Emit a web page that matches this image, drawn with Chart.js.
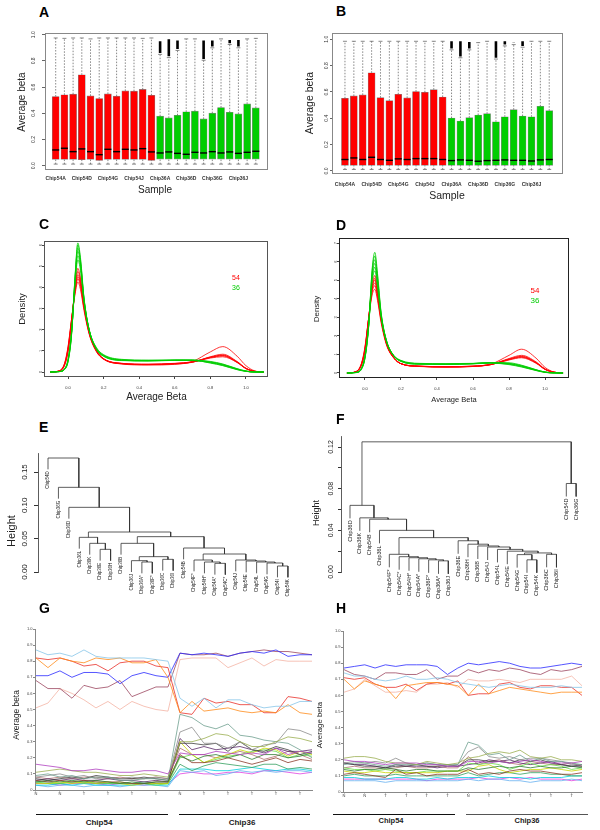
<!DOCTYPE html>
<html>
<head>
<meta charset="utf-8">
<script src="https://cdn.jsdelivr.net/npm/chart.js@4.4.1/dist/chart.umd.min.js"></script>
<style>
body { margin: 0; background: #fff; }
#fig { position: relative; width: 600px; height: 830px; overflow: hidden; font-family: "Liberation Sans", Arial, sans-serif; color: #222; }
#fig canvas { position: absolute; }
.t { position: absolute; white-space: nowrap; line-height: 1; transform: translate(-50%, -50%); }
.p { position: absolute; font-weight: bold; font-size: 14px; line-height: 1; color: #000; }
.bar { position: absolute; height: 0; border-top: 1.5px solid #111; }
</style>
</head>
<body>
<div id="fig"></div>
<script>
// ---------- dados ----------
const SAMPLES = ['Chip54A','Chip54B','Chip54C','Chip54D','Chip54E','Chip54F','Chip54G','Chip54H','Chip54I','Chip54J','Chip54K','Chip54L',
                 'Chip36A','Chip36B','Chip36C','Chip36D','Chip36E','Chip36F','Chip36G','Chip36H','Chip36I','Chip36J','Chip36K','Chip36L'];
const BOX_TICKS = [1, 4, 7, 10, 13, 16, 19, 22];
const BETA_TICKS = [0, 0.2, 0.4, 0.6, 0.8, 1.0];

// painel A
const A_Q3  = [0.528,0.541,0.546,0.694,0.533,0.513,0.548,0.531,0.571,0.569,0.582,0.538, 0.378,0.365,0.385,0.411,0.416,0.357,0.401,0.444,0.408,0.395,0.472,0.441];
const A_MED = [0.120,0.133,0.107,0.128,0.107,0.084,0.125,0.107,0.125,0.120,0.130,0.105, 0.097,0.105,0.094,0.087,0.102,0.097,0.107,0.097,0.105,0.094,0.102,0.110];
const A_Q1  = [0.048,0.048,0.048,0.046,0.048,0.040,0.048,0.048,0.048,0.048,0.048,0.040, 0.050,0.050,0.050,0.050,0.050,0.050,0.050,0.050,0.050,0.050,0.050,0.050];
const A_MIN = [0.012,0.012,0.012,0.012,0.012,0.012,0.012,0.012,0.012,0.012,0.012,0.012, 0.012,0.012,0.012,0.012,0.012,0.012,0.012,0.012,0.012,0.012,0.012,0.012];
const A_MAX = [0.975,0.972,0.975,0.975,0.968,0.975,0.975,0.975,0.975,0.975,0.972,0.975, 0.850,0.825,0.880,0.968,0.968,0.805,0.900,0.968,0.925,0.900,0.968,0.972];
const A_OUT = [[13,0.86,0.95],[14,0.835,0.965],[15,0.89,0.955],[18,0.815,0.955],[19,0.91,0.955],[21,0.935,0.96],[22,0.91,0.96]];

// painel B
const B_Q3  = [0.552,0.570,0.578,0.746,0.557,0.534,0.583,0.555,0.603,0.598,0.618,0.562, 0.402,0.379,0.405,0.425,0.435,0.374,0.412,0.466,0.417,0.412,0.491,0.458];
const B_MED = [0.087,0.099,0.087,0.104,0.087,0.081,0.092,0.087,0.094,0.094,0.094,0.087, 0.079,0.084,0.081,0.074,0.079,0.081,0.084,0.081,0.081,0.076,0.084,0.087];
const B_Q1  = [0.043,0.043,0.043,0.043,0.043,0.043,0.043,0.043,0.043,0.043,0.043,0.043, 0.043,0.043,0.043,0.043,0.043,0.043,0.043,0.043,0.043,0.043,0.043,0.043];
const B_MIN = [0.012,0.012,0.012,0.012,0.012,0.012,0.012,0.012,0.012,0.012,0.012,0.012, 0.012,0.012,0.012,0.012,0.012,0.012,0.012,0.012,0.012,0.012,0.012,0.012];
const B_MAX = [0.985,0.985,0.985,0.985,0.985,0.985,0.985,0.985,0.985,0.985,0.985,0.985, 0.920,0.860,0.920,0.975,0.985,0.850,0.950,0.960,0.940,0.985,0.985,0.985];
const B_OUT = [[13,0.93,0.985],[14,0.87,0.985],[15,0.93,0.98],[18,0.86,0.985],[19,0.96,0.985],[20,0.975,0.978],[21,0.95,0.985]];

// paineis C e D: densidades lidas numa grelha de beta
const DENS_X = [-0.1,-0.05,-0.02,0,0.02,0.04,0.055,0.07,0.09,0.12,0.16,0.2,0.3,0.45,0.6,0.7,0.8,0.87,0.95,1.0,1.05,1.1];
const C_RED_1 = [0,0.06,0.40,1.20,2.50,3.70,4.25,3.90,2.90,1.75,0.95,0.60,0.38,0.33,0.36,0.50,0.95,1.20,0.75,0.30,0.05,0];
const C_RED_2 = [0,0.05,0.38,1.15,2.50,3.80,4.40,4.05,3.00,1.80,0.98,0.62,0.40,0.36,0.40,0.48,0.66,0.72,0.45,0.16,0.03,0];
const C_RED_3 = [0,0.05,0.36,1.10,2.45,3.85,4.50,4.15,3.05,1.80,0.98,0.62,0.41,0.37,0.41,0.48,0.68,0.76,0.46,0.16,0.03,0];
const C_RED_4 = [0,0.04,0.34,1.05,2.40,3.90,4.60,4.25,3.10,1.85,1.00,0.63,0.41,0.36,0.40,0.47,0.70,0.80,0.48,0.17,0.03,0];
const C_RED_5 = [0,0.04,0.32,1.00,2.40,4.00,4.75,4.35,3.15,1.85,1.00,0.62,0.40,0.35,0.38,0.46,0.72,0.84,0.50,0.18,0.03,0];
const C_RED_6 = [0,0.04,0.30,0.95,2.35,4.05,4.90,4.45,3.20,1.90,1.02,0.62,0.39,0.35,0.39,0.47,0.70,0.78,0.47,0.17,0.03,0];
const C_GRN_1 = [0,0.02,0.15,0.60,1.90,4.20,5.30,4.80,3.30,1.95,1.15,0.82,0.60,0.56,0.56,0.54,0.45,0.33,0.13,0.04,0,0];
const C_GRN_2 = [0,0.02,0.14,0.58,1.90,4.30,5.50,4.95,3.35,1.95,1.12,0.80,0.58,0.55,0.56,0.55,0.47,0.35,0.14,0.04,0,0];
const C_GRN_3 = [0,0.02,0.13,0.55,1.85,4.40,5.70,5.10,3.40,1.95,1.10,0.78,0.57,0.54,0.56,0.56,0.48,0.36,0.15,0.04,0,0];
const C_GRN_4 = [0,0.02,0.12,0.52,1.80,4.50,5.85,5.20,3.45,1.95,1.08,0.76,0.56,0.53,0.55,0.55,0.44,0.31,0.12,0.03,0,0];
const C_GRN_5 = [0,0.02,0.12,0.50,1.80,4.55,6.00,5.30,3.45,1.95,1.07,0.75,0.55,0.53,0.56,0.57,0.50,0.38,0.16,0.05,0,0];
const C_GRN_6 = [0,0.02,0.11,0.48,1.75,4.60,6.10,5.40,3.50,1.95,1.06,0.74,0.54,0.52,0.55,0.56,0.42,0.30,0.11,0.03,0,0];
const D_RED_1 = [0,0.08,0.50,1.40,2.90,4.20,4.50,3.90,2.70,1.50,0.80,0.50,0.36,0.32,0.35,0.48,0.95,1.28,0.80,0.30,0.05,0];
const D_RED_2 = [0,0.07,0.48,1.35,2.90,4.35,4.70,4.05,2.80,1.55,0.82,0.50,0.37,0.34,0.37,0.46,0.72,0.85,0.55,0.20,0.04,0];
const D_RED_3 = [0,0.07,0.46,1.30,2.90,4.45,4.85,4.15,2.85,1.55,0.82,0.50,0.37,0.34,0.37,0.46,0.75,0.90,0.57,0.20,0.04,0];
const D_RED_4 = [0,0.06,0.44,1.25,2.90,4.55,5.00,4.25,2.90,1.58,0.83,0.50,0.36,0.33,0.36,0.45,0.70,0.82,0.52,0.19,0.04,0];
const D_RED_5 = [0,0.06,0.42,1.20,2.85,4.60,5.10,4.35,2.95,1.60,0.83,0.50,0.36,0.33,0.36,0.46,0.78,0.95,0.60,0.22,0.04,0];
const D_RED_6 = [0,0.06,0.40,1.15,2.85,4.70,5.25,4.45,3.00,1.62,0.84,0.50,0.35,0.32,0.35,0.45,0.74,0.88,0.55,0.20,0.04,0];
const D_GRN_1 = [0,0.03,0.25,0.90,2.50,4.90,5.50,4.60,3.00,1.70,0.95,0.68,0.52,0.50,0.52,0.56,0.52,0.40,0.17,0.05,0.01,0];
const D_GRN_2 = [0,0.03,0.24,0.88,2.50,5.05,5.70,4.75,3.05,1.70,0.94,0.66,0.50,0.48,0.51,0.55,0.50,0.38,0.16,0.05,0.01,0];
const D_GRN_3 = [0,0.03,0.22,0.85,2.50,5.20,5.90,4.90,3.10,1.70,0.93,0.65,0.50,0.48,0.51,0.56,0.55,0.42,0.18,0.05,0.01,0];
const D_GRN_4 = [0,0.03,0.21,0.82,2.45,5.35,6.10,5.05,3.15,1.70,0.92,0.64,0.49,0.47,0.50,0.54,0.47,0.34,0.14,0.04,0,0];
const D_GRN_5 = [0,0.02,0.20,0.80,2.45,5.50,6.30,5.20,3.20,1.72,0.92,0.63,0.48,0.47,0.50,0.55,0.50,0.36,0.15,0.04,0,0];
const D_GRN_6 = [0,0.02,0.19,0.78,2.40,5.60,6.50,5.35,3.25,1.75,0.92,0.62,0.47,0.46,0.49,0.53,0.45,0.32,0.13,0.03,0,0];

// paineis E e F: dendrogramas (folhas por ordem, fusoes [a, b, altura])
const E_ORDER = ['Chip54D','Chip36G','Chip36D','Chip36L','Chip36K','Chip36E','Chip36H','Chip36B','Chip36J','Chip36A*','Chip36F*','Chip36C',
                 'Chip36I','Chip54B','Chip54F*','Chip54H*','Chip54A*','Chip54C*','Chip54J','Chip54E','Chip54L','Chip54G','Chip54I','Chip54K'];
const E_MERGES = [
  ['Chip36E','Chip36H',0.034], ['Chip36K',0,0.043], ['Chip36L',1,0.052],
  ['Chip36A*','Chip36F*',0.015], ['Chip36J',3,0.017], ['Chip36C','Chip36I',0.019], [4,5,0.023], ['Chip36B',6,0.043],
  ['Chip54A*','Chip54C*',0.013], ['Chip54H*',8,0.015], ['Chip54F*',9,0.018],
  ['Chip54I','Chip54K',0.009], ['Chip54G',11,0.0135], ['Chip54L',12,0.015], ['Chip54E',13,0.0165], ['Chip54J',14,0.018],
  [10,15,0.027], ['Chip54B',16,0.036], [7,17,0.053], [2,18,0.060],
  ['Chip36D',19,0.097], ['Chip36G',20,0.127], ['Chip54D',21,0.171]
];
const E_TICKS = [0, 0.05, 0.10, 0.15];
const F_ORDER = ['Chip36D','Chip36K','Chip54B','Chip36L','Chip54F*','Chip54C*','Chip54H*','Chip54A*','Chip36F*','Chip36A*','Chip36J','Chip36E',
                 'Chip36H','Chip36B','Chip54J','Chip54L','Chip54E','Chip54G','Chip54I','Chip54K','Chip36C','Chip36I','Chip54D','Chip36G'];
const F_MERGES = [
  ['Chip36A*','Chip36J',0.0107], ['Chip36F*',0,0.0117], ['Chip54A*',1,0.0127], ['Chip54H*',2,0.0137], ['Chip54C*',3,0.0147], ['Chip54F*',4,0.017],
  ['Chip54I','Chip54K',0.0117], ['Chip54G',6,0.0167], ['Chip36C','Chip36I',0.017], [7,8,0.0183],
  ['Chip54E',9,0.020], ['Chip54L',10,0.0217], ['Chip54J',11,0.024], ['Chip36B',12,0.025], ['Chip36H',13,0.0267], ['Chip36E',14,0.030],
  [5,15,0.033], ['Chip36L',16,0.040], ['Chip54B',17,0.0507], ['Chip36K',18,0.052], ['Chip36D',19,0.064],
  ['Chip54D','Chip36G',0.085], [20,21,0.125]
];
const F_TICKS = [0, 0.02, 0.04, 0.06, 0.08, 0.10, 0.12];

// paineis G e H: 12 amostras Chip54 seguidas de 12 Chip36
const TN = ['N','N','T','T','T','T','N','T','T','T','T','T'];
const LINE_TICKS = [0, 2, 4, 6, 8, 10, 12, 14, 16, 18, 20, 22];
const Y10_TICKS = [0, 0.1, 0.2, 0.3, 0.4, 0.5, 0.6, 0.7, 0.8, 0.9, 1.0];

const G_SKY     = [0.87,0.84,0.85,0.83,0.87,0.83,0.82,0.82,0.82,0.82,0.81,0.80, 0.57,0.52,0.57,0.51,0.56,0.56,0.53,0.51,0.52,0.52,0.55,0.55];
const G_ORANGE  = [0.82,0.76,0.82,0.80,0.79,0.82,0.81,0.82,0.79,0.79,0.81,0.70, 0.48,0.55,0.49,0.50,0.51,0.49,0.48,0.49,0.48,0.53,0.48,0.47];
const G_RED     = [0.82,0.81,0.82,0.80,0.77,0.78,0.74,0.79,0.80,0.80,0.77,0.76, 0.48,0.47,0.57,0.54,0.55,0.53,0.53,0.48,0.48,0.58,0.57,0.55];
const G_BLUE    = [0.71,0.71,0.74,0.70,0.73,0.73,0.72,0.66,0.71,0.73,0.71,0.70, 0.85,0.84,0.85,0.84,0.83,0.85,0.86,0.85,0.87,0.83,0.84,0.84];
const G_PLUM    = [0.68,0.63,0.63,0.57,0.65,0.63,0.64,0.68,0.58,0.61,0.64,0.64, 0.85,0.84,0.84,0.85,0.83,0.85,0.86,0.87,0.86,0.86,0.85,0.84];
const G_PINK    = [0.51,0.54,0.63,0.60,0.56,0.51,0.55,0.50,0.55,0.52,0.50,0.49, 0.81,0.82,0.82,0.82,0.76,0.79,0.82,0.77,0.81,0.80,0.80,0.80];
const G_PURPLE  = [0.16,0.15,0.14,0.12,0.12,0.13,0.12,0.11,0.11,0.12,0.12,0.10, 0.23,0.22,0.22,0.24,0.23,0.22,0.23,0.22,0.26,0.22,0.24,0.23];
const G_OLIVE   = [0.11,0.12,0.13,0.12,0.11,0.11,0.10,0.09,0.09,0.10,0.09,0.08, 0.30,0.30,0.32,0.35,0.34,0.30,0.27,0.27,0.30,0.33,0.32,0.30];
const G_TEAL    = [0.09,0.10,0.08,0.09,0.07,0.08,0.08,0.06,0.06,0.07,0.07,0.06, 0.47,0.45,0.40,0.38,0.41,0.34,0.33,0.31,0.30,0.29,0.25,0.20];
const G_GRAY    = [0.08,0.09,0.10,0.08,0.09,0.07,0.08,0.07,0.08,0.07,0.08,0.07, 0.36,0.39,0.29,0.29,0.26,0.30,0.25,0.28,0.29,0.38,0.37,0.34];
const G_DARK    = [0.07,0.06,0.07,0.08,0.07,0.09,0.08,0.07,0.07,0.08,0.07,0.06, 0.29,0.29,0.28,0.29,0.24,0.30,0.25,0.24,0.27,0.25,0.22,0.24];
const G_FOREST  = [0.05,0.06,0.05,0.06,0.05,0.06,0.05,0.04,0.05,0.04,0.05,0.05, 0.21,0.18,0.21,0.22,0.20,0.22,0.19,0.22,0.22,0.20,0.21,0.23];
const G_BROWN   = [0.06,0.05,0.06,0.05,0.06,0.05,0.05,0.05,0.04,0.04,0.05,0.05, 0.22,0.17,0.17,0.18,0.20,0.18,0.16,0.18,0.20,0.17,0.19,0.18];
const G_YELLOW  = [0.04,0.04,0.05,0.04,0.05,0.04,0.05,0.04,0.03,0.04,0.04,0.04, 0.30,0.22,0.17,0.20,0.22,0.25,0.23,0.26,0.25,0.21,0.24,0.22];
const G_LIME    = [0.05,0.04,0.04,0.05,0.04,0.05,0.04,0.05,0.04,0.04,0.03,0.04, 0.20,0.22,0.17,0.19,0.21,0.22,0.24,0.25,0.24,0.20,0.22,0.21];
const G_INDIGO  = [0.06,0.07,0.06,0.07,0.06,0.06,0.07,0.06,0.06,0.05,0.06,0.05, 0.32,0.25,0.27,0.25,0.26,0.27,0.25,0.23,0.26,0.24,0.24,0.25];
const G_GREEN   = [0.05,0.05,0.04,0.05,0.05,0.04,0.04,0.04,0.04,0.05,0.04,0.04, 0.16,0.12,0.15,0.17,0.16,0.15,0.14,0.16,0.16,0.13,0.14,0.13];
const G_CYAN    = [0.03,0.03,0.04,0.03,0.04,0.03,0.03,0.03,0.03,0.04,0.03,0.03, 0.13,0.13,0.13,0.12,0.12,0.13,0.14,0.13,0.12,0.13,0.13,0.12];
const G_LBLUE   = [0.03,0.02,0.03,0.03,0.02,0.03,0.03,0.02,0.03,0.03,0.03,0.02, 0.12,0.11,0.12,0.09,0.10,0.12,0.11,0.12,0.11,0.12,0.12,0.11];
const G_MAGENTA = [0.04,0.04,0.03,0.04,0.04,0.04,0.03,0.04,0.04,0.03,0.04,0.04, 0.10,0.11,0.10,0.10,0.11,0.11,0.10,0.12,0.12,0.11,0.10,0.11];
const G_ROSY    = [0.08,0.07,0.08,0.07,0.08,0.08,0.07,0.08,0.07,0.07,0.08,0.07, 0.26,0.22,0.22,0.20,0.22,0.24,0.22,0.19,0.21,0.24,0.22,0.19];

const H_BLUE    = [0.77,0.78,0.79,0.77,0.79,0.78,0.79,0.79,0.79,0.78,0.73,0.77, 0.80,0.79,0.80,0.81,0.80,0.78,0.77,0.77,0.78,0.79,0.80,0.79];
const H_PLUM    = [0.76,0.73,0.72,0.70,0.74,0.74,0.73,0.73,0.76,0.70,0.72,0.72, 0.76,0.74,0.76,0.75,0.77,0.76,0.74,0.73,0.76,0.75,0.76,0.78];
const H_SKY     = [0.74,0.72,0.72,0.70,0.69,0.70,0.72,0.70,0.70,0.71,0.70,0.68, 0.67,0.66,0.65,0.66,0.67,0.66,0.65,0.65,0.65,0.66,0.65,0.65];
const H_PINK    = [0.62,0.64,0.70,0.66,0.62,0.62,0.63,0.62,0.67,0.67,0.68,0.65, 0.70,0.69,0.69,0.70,0.69,0.68,0.70,0.70,0.70,0.70,0.72,0.66];
const H_RED     = [0.71,0.70,0.71,0.67,0.65,0.65,0.67,0.63,0.67,0.68,0.67,0.69, 0.60,0.61,0.61,0.67,0.68,0.65,0.64,0.66,0.66,0.65,0.65,0.60];
const H_ORANGE  = [0.70,0.64,0.69,0.67,0.65,0.58,0.66,0.67,0.68,0.68,0.67,0.66, 0.60,0.67,0.61,0.63,0.65,0.64,0.63,0.62,0.61,0.62,0.62,0.62];
const H_SAGE    = [0.17,0.18,0.18,0.17,0.16,0.17,0.17,0.17,0.18,0.17,0.17,0.17, 0.31,0.29,0.23,0.24,0.20,0.23,0.19,0.21,0.19,0.19,0.18,0.17];
const H_OLIVE   = [0.21,0.22,0.22,0.21,0.19,0.18,0.18,0.17,0.19,0.18,0.17,0.18, 0.21,0.22,0.24,0.25,0.24,0.26,0.22,0.21,0.22,0.20,0.20,0.19];
const H_GRAY    = [0.18,0.19,0.18,0.19,0.18,0.21,0.18,0.17,0.18,0.17,0.16,0.17, 0.25,0.28,0.22,0.21,0.22,0.20,0.21,0.21,0.20,0.19,0.17,0.17];
const H_PURPLE  = [0.20,0.19,0.19,0.18,0.17,0.18,0.18,0.18,0.17,0.17,0.16,0.16, 0.19,0.19,0.18,0.19,0.18,0.19,0.20,0.19,0.18,0.18,0.18,0.19];
const H_DARK    = [0.18,0.17,0.16,0.16,0.15,0.16,0.16,0.17,0.16,0.16,0.17,0.16, 0.20,0.20,0.19,0.19,0.18,0.20,0.19,0.20,0.18,0.17,0.16,0.16];
const H_FOREST  = [0.14,0.13,0.14,0.14,0.15,0.14,0.13,0.14,0.14,0.13,0.13,0.13, 0.15,0.14,0.15,0.16,0.15,0.16,0.15,0.16,0.15,0.15,0.16,0.15];
const H_BROWN   = [0.11,0.12,0.11,0.10,0.09,0.14,0.11,0.12,0.10,0.11,0.11,0.11, 0.14,0.11,0.12,0.11,0.13,0.14,0.13,0.13,0.12,0.11,0.11,0.12];
const H_YELLOW  = [0.13,0.12,0.12,0.13,0.12,0.12,0.12,0.12,0.12,0.12,0.13,0.13, 0.13,0.16,0.17,0.14,0.12,0.13,0.14,0.14,0.15,0.14,0.13,0.14];
const H_LIME    = [0.15,0.14,0.14,0.13,0.14,0.13,0.12,0.12,0.13,0.13,0.13,0.13, 0.18,0.17,0.18,0.17,0.14,0.16,0.18,0.16,0.17,0.16,0.14,0.15];
const H_INDIGO  = [0.18,0.17,0.17,0.16,0.15,0.17,0.16,0.16,0.16,0.15,0.16,0.16, 0.17,0.18,0.20,0.19,0.20,0.18,0.17,0.18,0.19,0.17,0.16,0.17];
const H_GREEN   = [0.10,0.11,0.10,0.10,0.10,0.11,0.10,0.10,0.10,0.10,0.10,0.10, 0.12,0.10,0.11,0.12,0.12,0.11,0.12,0.12,0.11,0.11,0.10,0.10];
const H_CYAN    = [0.09,0.09,0.08,0.08,0.08,0.09,0.09,0.08,0.08,0.09,0.08,0.09, 0.09,0.09,0.10,0.09,0.09,0.09,0.08,0.09,0.09,0.09,0.10,0.10];
const H_LBLUE   = [0.07,0.07,0.07,0.07,0.06,0.07,0.07,0.07,0.07,0.07,0.07,0.07, 0.08,0.07,0.08,0.08,0.07,0.07,0.06,0.07,0.07,0.07,0.08,0.07];
const H_MAGENTA = [0.08,0.08,0.08,0.08,0.08,0.08,0.08,0.08,0.07,0.08,0.08,0.08, 0.08,0.09,0.08,0.08,0.09,0.08,0.09,0.08,0.08,0.08,0.07,0.08];
const H_ROSY    = [0.15,0.16,0.15,0.15,0.14,0.15,0.16,0.15,0.15,0.16,0.15,0.15, 0.22,0.17,0.19,0.20,0.18,0.17,0.19,0.18,0.17,0.17,0.18,0.16];

// ---------- estilos e utilitarios ----------
const RED = '#ff0000';
const GREEN = '#00cd00';
Chart.defaults.font.family = '"Liberation Sans", Arial, sans-serif';
Chart.defaults.color = '#333';
Chart.defaults.animation = false;
Chart.defaults.responsive = false;
Chart.defaults.events = [];
Chart.defaults.plugins.legend.display = false;
Chart.defaults.plugins.tooltip.enabled = false;

const fig = document.getElementById('fig');

function canvas(l, t, w, h) {
  const c = document.createElement('canvas');
  c.width = w; c.height = h;
  c.style.left = l + 'px'; c.style.top = t + 'px';
  c.style.width = w + 'px'; c.style.height = h + 'px';
  fig.appendChild(c);
  return c;
}
function text(s, x, y, size, css) {
  const d = document.createElement('div');
  d.className = 't';
  d.textContent = s;
  d.style.left = x + 'px'; d.style.top = y + 'px'; d.style.fontSize = size + 'px';
  if (css) Object.assign(d.style, css);
  fig.appendChild(d);
}
const vtext = (s, x, y, size) => text(s, x, y, size, { transform: 'translate(-50%, -50%) rotate(-90deg)' });
function letter(s, x, y) {
  const d = document.createElement('div');
  d.className = 'p'; d.textContent = s;
  d.style.left = x + 'px'; d.style.top = y + 'px';
  fig.appendChild(d);
}
function bar(x0, x1, y, color) {
  const d = document.createElement('div');
  d.className = 'bar';
  d.style.left = x0 + 'px'; d.style.top = y + 'px'; d.style.width = (x1 - x0) + 'px';
  if (color) d.style.borderTopColor = color;
  fig.appendChild(d);
}
// tamanho fixo dos eixos, para a area do grafico cair onde esta na figura
const size = v => s => { if (s.isHorizontal()) s.height = v; else s.width = v; };
const at = vals => s => { s.ticks = vals.map(v => ({ value: v })); };

// moldura a volta da area do grafico (estilo R)
const frame = {
  id: 'frame',
  afterDatasetsDraw(chart, args, opts) {
    const a = chart.chartArea, c = chart.ctx;
    c.save();
    c.strokeStyle = opts.color || '#555';
    c.lineWidth = 1;
    c.strokeRect(Math.round(a.left) + 0.5, Math.round(a.top) + 0.5, Math.round(a.right - a.left) - 1, Math.round(a.bottom - a.top) - 1);
    c.restore();
  }
};

// ---------- A e B: boxplots ----------
function boxChart(cv, q1, med, q3, lo, hi, out, o) {
  const cols = SAMPLES.map(s => s.indexOf('Chip54') === 0 ? RED : GREEN);
  const seg = (i, a, b) => [{ x: i, y: a }, { x: i, y: b }, { x: i, y: null }];
  const whisk = [];
  SAMPLES.forEach((s, k) => { whisk.push(...seg(k + 1, q3[k], hi[k]), ...seg(k + 1, lo[k], q1[k])); });
  const outs = [];
  out.forEach(([i, a, b]) => outs.push(...seg(i, a, b)));
  const caps = hi.concat(lo).map((v, k) => ({ x: (k % 24) + 1, y: v }));
  return new Chart(cv, {
    type: 'bar',
    data: {
      datasets: [
        { type: 'scatter', data: med.map((v, k) => ({ x: k + 1, y: v })), pointStyle: 'line', pointRadius: 3.5,
          pointBorderColor: '#000', pointBorderWidth: 1.4, borderColor: '#000' },
        { type: 'scatter', data: caps, pointStyle: 'line', pointRadius: 2, pointBorderColor: '#555', pointBorderWidth: 0.7, borderColor: '#555' },
        { type: 'line', data: outs, borderColor: '#000', borderWidth: 2.6, pointRadius: 0, spanGaps: false },
        { type: 'line', data: whisk, borderColor: '#555', borderWidth: 0.7, borderDash: [1.5, 1.5], pointRadius: 0, spanGaps: false },
        { data: q1.map((v, k) => ({ x: k + 1, y: [v, q3[k]] })), backgroundColor: cols, borderColor: '#888',
          borderWidth: 0.6, borderSkipped: false, barThickness: 7 }
      ]
    },
    options: {
      layout: { padding: o.pad },
      plugins: { frame: { color: '#888' } },
      scales: {
        x: { type: 'linear', min: o.xmin, max: o.xmax, offset: false, afterFit: size(o.xh), afterBuildTicks: at(BOX_TICKS),
             grid: { display: false, drawTicks: false, offset: false }, border: { display: false },
             ticks: { callback: v => SAMPLES[v - 1], font: { size: 5, weight: 'bold' }, color: '#333', padding: o.xpad, maxRotation: 0, autoSkip: false } },
        y: { min: o.ymin, max: o.ymax, afterFit: size(o.yw), afterBuildTicks: at(BETA_TICKS),
             grid: { drawOnChartArea: false, tickLength: o.tl, color: '#666' }, border: { display: false },
             ticks: { minRotation: 90, maxRotation: 90, crossAlign: 'center', padding: o.ypad, font: { size: 5 }, color: '#333', callback: v => v.toFixed(1) } }
      }
    },
    plugins: [frame]
  });
}

boxChart(canvas(0, 20, 290, 180), A_Q1, A_MED, A_Q3, A_MIN, A_MAX, A_OUT,
  { pad: { top: 13, right: 22, left: 0, bottom: 0 }, xmin: -0.23, xmax: 25.4, ymin: -0.033, ymax: 1.013, xh: 30, yw: 45, xpad: 6, tl: 3, ypad: 5 });
boxChart(canvas(300, 20, 300, 180), B_Q1, B_MED, B_Q3, B_MIN, B_MAX, B_OUT,
  { pad: { top: 13, right: 37, left: 0, bottom: 0 }, xmin: -0.46, xmax: 25.55, ymin: -0.023, ymax: 1.048, xh: 26, yw: 32, xpad: 7.5, tl: 2, ypad: 0 });

// ---------- C e D: densidades ----------
function densChart(cv, reds, greens, o) {
  const mk = (arr, col) => ({ data: arr.map((v, i) => ({ x: DENS_X[i], y: v })), borderColor: col });
  return new Chart(cv, {
    type: 'line',
    data: { datasets: greens.map(g => mk(g, GREEN)).concat(reds.map(r => mk(r, RED))) },
    options: {
      layout: { padding: o.pad },
      elements: { point: { radius: 0 }, line: { borderWidth: 0.8, cubicInterpolationMode: 'monotone' } },
      plugins: { frame: { color: o.frame } },
      scales: {
        x: { type: 'linear', min: o.xmin, max: o.xmax, afterFit: size(o.xh), afterBuildTicks: at(BETA_TICKS),
             grid: { drawOnChartArea: false, tickLength: 2, color: '#444' }, border: { display: false },
             ticks: { padding: 6, font: { size: 4 }, color: '#333', maxRotation: 0, callback: v => v.toFixed(1) } },
        y: { min: o.ymin, max: o.ymax, afterFit: size(o.yw), afterBuildTicks: at(o.yt),
             grid: { drawOnChartArea: false, tickLength: 2, color: '#444' }, border: { display: false },
             ticks: { minRotation: 90, maxRotation: 90, crossAlign: 'center', padding: 0, font: { size: 4 }, color: '#333' } }
      }
    },
    plugins: [frame]
  });
}

densChart(canvas(0, 205, 295, 195), [C_RED_1, C_RED_2, C_RED_3, C_RED_4, C_RED_5, C_RED_6], [C_GRN_1, C_GRN_2, C_GRN_3, C_GRN_4, C_GRN_5, C_GRN_6],
  { pad: { top: 36, right: 27, left: 0, bottom: 0 }, xmin: -0.135, xmax: 1.124, ymin: -0.236, ymax: 6.19, xh: 23, yw: 44, yt: [0, 1, 2, 3, 4, 5, 6], frame: '#555' });
densChart(canvas(300, 205, 300, 200), [D_RED_1, D_RED_2, D_RED_3, D_RED_4, D_RED_5, D_RED_6], [D_GRN_1, D_GRN_2, D_GRN_3, D_GRN_4, D_GRN_5, D_GRN_6],
  { pad: { top: 33, right: 31, left: 0, bottom: 0 }, xmin: -0.144, xmax: 1.133, ymin: -0.27, ymax: 7.27, xh: 27, yw: 39, yt: [0, 1, 2, 3, 4, 5, 6, 7], frame: '#222' });

// ---------- E e F: dendrogramas ----------
function dendro(order, merges, hang) {
  const pts = [], leaves = [], cx = [];
  const isLeaf = n => typeof n === 'string';
  const pos = n => isLeaf(n) ? order.indexOf(n) + 1 : cx[n];
  merges.forEach(([a, b, h], i) => {
    const xa = pos(a), xb = pos(b);
    const ya = isLeaf(a) ? h - hang : merges[a][2];
    const yb = isLeaf(b) ? h - hang : merges[b][2];
    if (isLeaf(a)) leaves.push({ x: xa, y: ya, text: a });
    if (isLeaf(b)) leaves.push({ x: xb, y: yb, text: b });
    pts.push({ x: xa, y: ya }, { x: xa, y: h }, { x: xb, y: h }, { x: xb, y: yb }, { x: xa, y: null });
    cx[i] = (xa + xb) / 2;
  });
  return { pts, leaves };
}
// nomes das folhas, rodados, por baixo de cada folha
function leafText(leaves, font, gap) {
  return {
    id: 'leafText',
    afterDatasetsDraw(chart) {
      const c = chart.ctx, xs = chart.scales.x, ys = chart.scales.y;
      c.save();
      c.fillStyle = '#222'; c.font = font; c.textAlign = 'right'; c.textBaseline = 'middle';
      leaves.forEach(l => {
        c.save();
        c.translate(xs.getPixelForValue(l.x), ys.getPixelForValue(l.y) + gap);
        c.rotate(-Math.PI / 2);
        c.fillText(l.text, 0, 0);
        c.restore();
      });
      c.restore();
    }
  };
}
function dendroChart(cv, tree, o) {
  return new Chart(cv, {
    type: 'scatter',
    data: { datasets: [{ data: tree.pts, showLine: true, borderColor: '#333', borderWidth: 0.8, pointRadius: 0, clip: false, spanGaps: false }] },
    options: {
      layout: { padding: o.pad },
      scales: {
        x: { display: false, min: o.xmin, max: o.xmax },
        y: { min: 0, max: o.ymax, afterFit: size(o.yw), afterBuildTicks: at(o.ticks),
             border: { display: true, color: '#333', width: 0.8 },
             grid: { drawOnChartArea: false, tickLength: o.tl, color: '#333' },
             ticks: { minRotation: 90, maxRotation: 90, crossAlign: 'center', padding: o.ypad, font: { size: o.fs }, color: '#222', callback: o.fmt } }
      }
    },
    plugins: [leafText(tree.leaves, o.leafFont, 2)]
  });
}

dendroChart(canvas(0, 440, 300, 170), dendro(E_ORDER, E_MERGES, 0.017),
  { pad: { top: 13, right: 5, left: 0, bottom: 38 }, xmin: 0.041, xmax: 24.68, ymax: 0.1785, yw: 38, ticks: E_TICKS, tl: 4, ypad: 1, fs: 8,
    fmt: v => v.toFixed(2), leafFont: '4.5px "Liberation Sans"' });
dendroChart(canvas(300, 425, 300, 185), dendro(F_ORDER, F_MERGES, 0.0125),
  { pad: { top: 11, right: 10, left: 0, bottom: 38 }, xmin: 0.085, xmax: 25.41, ymax: 0.1306, yw: 41, ticks: F_TICKS, tl: 3, ypad: 0, fs: 7,
    fmt: v => (Math.round(v * 100) % 4 === 0 ? v.toFixed(2) : ''), leafFont: '5.5px "Liberation Sans"' });

// ---------- G e H: perfis por amostra ----------
function profChart(cv, series, colors, o) {
  return new Chart(cv, {
    type: 'line',
    data: { datasets: series.map((s, k) => ({ data: s.map((v, i) => ({ x: i, y: v })), borderColor: colors[k] })) },
    options: {
      layout: { padding: o.pad },
      elements: { point: { radius: 0 }, line: { borderWidth: 0.8, tension: 0 } },
      scales: {
        x: { type: 'linear', min: o.xmin, max: 23, afterFit: size(o.xh), afterBuildTicks: at(LINE_TICKS),
             border: { color: '#888' }, grid: { drawOnChartArea: false, tickLength: 1.5, color: '#888' },
             ticks: { padding: 0, font: { size: 4 }, color: '#444', maxRotation: 0, autoSkip: false, callback: v => TN[v / 2] } },
        y: { min: 0, max: 1, afterFit: size(o.yw), afterBuildTicks: at(Y10_TICKS),
             border: { color: '#888' }, grid: { drawOnChartArea: false, tickLength: 2, color: '#888' },
             ticks: { padding: 0.5, font: { size: 4 }, color: '#444', callback: v => (v === 0 ? '0' : v.toFixed(1)) } }
      }
    }
  });
}

const LINE_COLS = ['#87c5e8', '#ff8c1a', '#e8302a', '#2a2aff', '#9c4660', '#f4b4a4',
                   '#b040c0', '#9aaf50', '#6f9f8f', '#8c8c8c', '#404040', '#2e7d32', '#8b3a2a', '#c8d400', '#66dd44',
                   '#5a2a6a', '#33a060', '#00d0e0', '#66b0f0', '#e040e0', '#b07070'];
profChart(canvas(0, 620, 318, 180),
  [G_SKY, G_ORANGE, G_RED, G_BLUE, G_PLUM, G_PINK, G_PURPLE, G_OLIVE, G_TEAL, G_GRAY, G_DARK, G_FOREST, G_BROWN, G_YELLOW, G_LIME,
   G_INDIGO, G_GREEN, G_CYAN, G_LBLUE, G_MAGENTA, G_ROSY], LINE_COLS,
  { pad: { top: 9, right: 6, left: 0, bottom: 0 }, xmin: -0.08, xh: 10, yw: 35 });
profChart(canvas(318, 620, 282, 180),
  [H_SKY, H_ORANGE, H_RED, H_BLUE, H_PLUM, H_PINK, H_PURPLE, H_OLIVE, H_SAGE, H_GRAY, H_DARK, H_FOREST, H_BROWN, H_YELLOW, H_LIME,
   H_INDIGO, H_GREEN, H_CYAN, H_LBLUE, H_MAGENTA, H_ROSY], LINE_COLS,
  { pad: { top: 11, right: 18, left: 0, bottom: 0 }, xmin: -0.1, xh: 8, yw: 25 });

// ---------- textos ----------
letter('A', 39, 5); letter('B', 336, 4); letter('C', 39, 217); letter('D', 336, 218);
letter('E', 39, 420); letter('F', 336, 412); letter('G', 39, 601); letter('H', 336, 601);

vtext('Average beta', 21.5, 102, 10); text('Sample', 155, 190, 10);
vtext('Average beta', 309, 103, 10.5); text('Sample', 447, 195, 10.5);
vtext('Density', 21.5, 308.5, 9.5); text('Average Beta', 156.5, 397, 10);
text('54', 236, 277, 7, { color: RED }); text('36', 236, 287, 7, { color: GREEN });
vtext('Density', 317, 308.5, 8); text('Average Beta', 454, 400, 7.5);
text('54', 535, 291, 8, { color: RED }); text('36', 535, 301, 8, { color: GREEN });
vtext('Height', 11, 531, 11);
vtext('Height', 316, 513, 9);
vtext('Average beta', 16, 715, 8.4);
vtext('Average beta', 320, 725, 7.8);

bar(36, 168, 814); bar(179, 310, 814);
text('Chip54', 99, 823, 8, { fontWeight: 'bold' }); text('Chip36', 242, 823, 8, { fontWeight: 'bold' });
bar(333, 455, 814); bar(466, 588, 814, '#555');
text('Chip54', 391, 821, 7.5, { fontWeight: 'bold' }); text('Chip36', 527, 821, 7.5, { fontWeight: 'bold' });
</script>
</body>
</html>
